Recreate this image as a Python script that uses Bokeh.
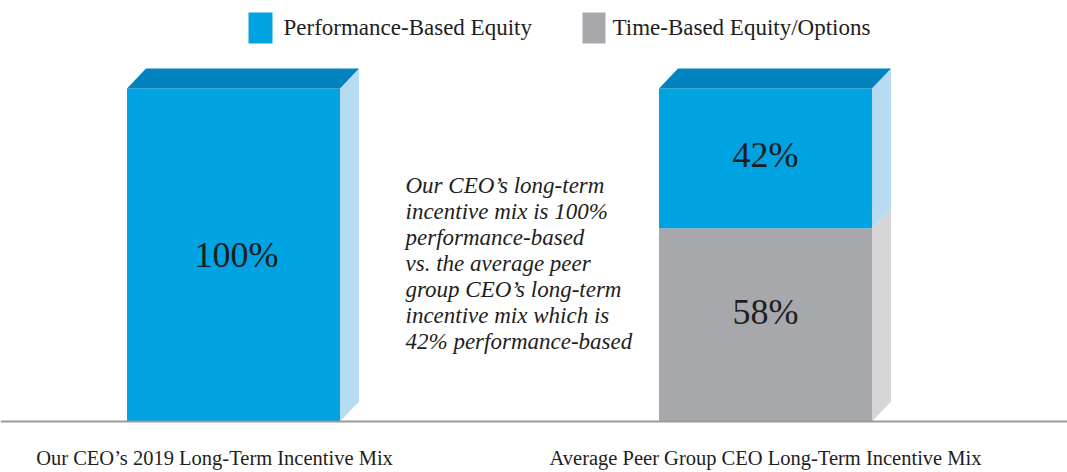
from bokeh.plotting import figure
from bokeh.models import Range1d, Span
from bokeh.core.properties import value
from bokeh.embed import file_html
from bokeh.resources import INLINE

# ---- data ----
categories = ["Our CEO\u2019s 2019 Long-Term Incentive Mix",
              "Average Peer Group CEO Long-Term Incentive Mix"]
performance = [100, 42]
time_based = [0, 58]
series_names = ["Performance-Based Equity", "Time-Based Equity/Options"]
note_lines = ["Our CEO\u2019s long-term",
              "incentive mix is 100%",
              "performance-based",
              "vs. the average peer",
              "group CEO\u2019s long-term",
              "incentive mix which is",
              "42% performance-based"]

# ---- layout / style ----
W, H = 1067, 472
BASE_PX = 421.0      # pixel row of value 0
PX_PER_PCT = 3.33    # pixels per percentage point


def yv(px):
    """convert a pixel row (from the top) into value units"""
    return (BASE_PX - px) / PX_PER_PCT


centers = [233, 765]
bar_w = 213
dx = 19          # depth offset in px (x units are px)
dy = 6.0         # depth offset in % units
FONT = value("Liberation Serif")
TXT = "#1E1E1E"

BLUE = "#00A3E2"
BLUE_TOP = "#0083BF"
BLUE_SIDE = "#B7DBF2"
GRAY = "#A7A8AB"
GRAY_SIDE = "#D5D5D7"

p = figure(width=W, height=H, output_backend="svg", toolbar_location=None,
           x_range=Range1d(0, W), y_range=Range1d(yv(H), yv(0)),
           min_border=0, outline_line_color=None)
p.axis.visible = False
p.grid.visible = False
p.background_fill_color = "white"

for c, perf, tb in zip(centers, performance, time_based):
    l, r = c - bar_w / 2, c + bar_w / 2
    total = perf + tb
    if tb > 0:
        p.quad(left=[l], right=[r], bottom=[0], top=[tb], fill_color=GRAY, line_color=None)
        p.patch([r, r + dx, r + dx, r], [0, dy, tb + dy, tb], fill_color=GRAY_SIDE, line_color=None)
    p.quad(left=[l], right=[r], bottom=[tb], top=[total], fill_color=BLUE, line_color=None)
    p.patch([r, r + dx, r + dx, r], [tb, tb + dy if tb > 0 else dy, total + dy, total],
            fill_color=BLUE_SIDE, line_color=None)
    p.patch([l, l + dx, r + dx, r], [total, total + dy, total + dy, total],
            fill_color=BLUE_TOP, line_color=None)
    if tb > 0:
        p.text(x=[c], y=[total - perf / 2 + 1], text=[f"{perf}%"], text_font=FONT,
               text_font_size="36px", text_align="center", text_baseline="middle", text_color=TXT)
        p.text(x=[c], y=[tb / 2 + 4], text=[f"{tb}%"], text_font=FONT,
               text_font_size="36px", text_align="center", text_baseline="middle", text_color=TXT)
    else:
        p.text(x=[c + 3], y=[total / 2], text=[f"{perf}%"], text_font=FONT,
               text_font_size="36px", text_align="center", text_baseline="middle", text_color=TXT)

# baseline
p.add_layout(Span(location=0, dimension="width", line_color="#9A9A9A", line_width=2))

# category labels
p.text(x=[214, 765], y=[yv(457)] * 2, text=categories, text_font=FONT,
       text_font_size="20.5px", text_align="center", text_baseline="middle", text_color=TXT)

# italic note
note_y = [yv(185 + 26 * i) for i in range(len(note_lines))]
p.text(x=[405] * len(note_lines), y=note_y, text=note_lines, text_font=FONT,
       text_font_style="italic", text_font_size="23px", text_align="left",
       text_baseline="middle", text_color=TXT)

# legend
p.quad(left=[248, 582], right=[272, 605], bottom=[yv(43)] * 2, top=[yv(12)] * 2,
       fill_color=[BLUE, GRAY], line_color=None)
p.text(x=[283, 612], y=[yv(27)] * 2, text=series_names, text_font=FONT,
       text_font_size="23px", text_align="left", text_baseline="middle", text_color=TXT)

open("out.html", "w").write(file_html(p, INLINE))
